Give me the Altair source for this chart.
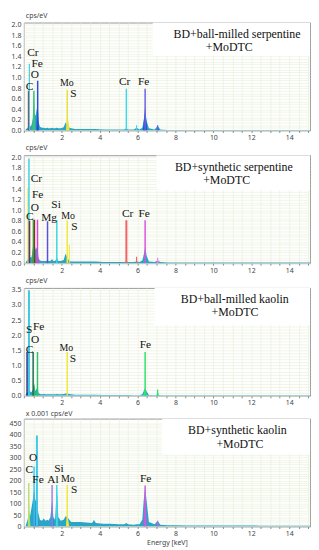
import altair as alt
import pandas as pd

# ---------------- shared energy grid for the continuum (keV) ----------------
ENERGY = [0.10, 0.20, 0.25, 0.28, 0.32,
          0.40, 0.48, 0.52, 0.56, 0.62,
          0.68, 0.72, 0.76, 0.85, 0.95,
          1.05, 1.15, 1.25, 1.30, 1.40,
          1.49, 1.56, 1.65, 1.74, 1.82,
          1.95, 2.10, 2.20, 2.30, 2.40,
          2.50, 2.70, 3.00, 3.30, 3.60,
          3.70, 3.80, 4.20, 4.60, 5.00,
          5.30, 5.41, 5.50, 5.80, 5.95,
          6.10, 6.25, 6.32, 6.40, 6.48,
          6.60, 6.90, 7.06, 7.20, 7.60,
          8.00, 8.60, 9.50, 10.5, 11.5,
          12.5, 13.5, 14.5, 15.1]

# ---------------- panel 1: BD + ball-milled serpentine + MoDTC ----------------
P1_BG = [0.02, 0.05, 0.07, 0.10, 0.07,
         0.10, 0.22, 0.38, 0.32, 0.28,
         0.40, 0.45, 0.18, 0.07, 0.05,
         0.05, 0.04, 0.05, 0.04, 0.04,
         0.05, 0.04, 0.04, 0.05, 0.04,
         0.04, 0.06, 0.15, 0.10, 0.05,
         0.04, 0.03, 0.03, 0.03, 0.03,
         0.03, 0.03, 0.02, 0.02, 0.02,
         0.02, 0.04, 0.02, 0.02, 0.05,
         0.02, 0.05, 0.18, 0.35, 0.18,
         0.04, 0.02, 0.09, 0.02, 0.01,
         0.01, 0.01, 0.01, 0.01, 0.01,
         0.01, 0.01, 0.01, 0.01]
P1_PEAK_COLORS = ["#a02c3c", "#3cc27a", "#2a4cd8", "#e6e040", "#2450d0", "#2450d0"]
P1_PEAK_E = [[0.22, 0.27, 0.32], [0.44, 0.50, 0.53, 0.56, 0.60], [0.66, 0.70, 0.73, 0.76, 0.80],
             [2.22, 2.27, 2.31, 2.35, 2.42], [6.28, 6.34, 6.40, 6.46, 6.52], [7.00, 7.06, 7.12]]
P1_PEAK_V = [[0, 0.12, 0], [0, 0.50, 0.74, 0.45, 0], [0, 0.35, 0.55, 0.30, 0],
             [0, 0.22, 0.26, 0.18, 0], [0, 0.22, 0.46, 0.20, 0], [0, 0.11, 0]]
P1_LINE_E = [0.25, 0.29, 0.53, 0.73, 2.29, 5.41, 5.95, 6.40, 7.06]
P1_LINE_H = [0.75, 1.26, 0.75, 0.94, 0.77, 0.79, 0.10, 0.79, 0.10]
P1_LINE_C = ["#a02c3c", "#3ccfe3", "#3cc27a", "#2a4cd8", "#e6e040", "#44d6e8", "#44d6e8", "#7060e8", "#7060e8"]
P1_LINE_W = [1.5, 1.2, 1.5, 1.5, 1.5, 1.5, 1.2, 1.5, 1.2]
P1_LAB = ["Cr", "Fe", "O", "C", "Mo", "S", "Cr", "Fe"]
P1_LAB_E = [0.48, 0.70, 0.58, 0.30, 2.27, 2.62, 5.32, 6.32]
P1_LAB_V = [1.46, 1.25, 1.04, 0.83, 0.90, 0.69, 0.91, 0.91]
P1_LAB_S = [11.5, 11.5, 11.5, 11.5, 10, 11.5, 11.5, 11.5]
P1_BOX = [6.8, 15.1, 1.41, 2.04]
P1_TEXT = ["BD+ball-milled serpentine", "+MoDTC"]
P1_TEXT_E = [11.25, 10.84]
P1_TEXT_V = [1.82, 1.57]

# ---------------- panel 2: BD + synthetic serpentine + MoDTC ----------------
P2_BG = [0.02, 0.06, 0.10, 0.25, 0.12,
         0.10, 0.28, 0.50, 0.40, 0.25,
         0.30, 0.20, 0.10, 0.05, 0.04,
         0.04, 0.04, 0.05, 0.04, 0.04,
         0.08, 0.04, 0.04, 0.10, 0.04,
         0.04, 0.06, 0.18, 0.10, 0.04,
         0.03, 0.03, 0.03, 0.03, 0.03,
         0.03, 0.03, 0.02, 0.02, 0.02,
         0.02, 0.03, 0.02, 0.02, 0.03,
         0.02, 0.05, 0.15, 0.30, 0.14,
         0.03, 0.02, 0.05, 0.02, 0.01,
         0.01, 0.01, 0.01, 0.01, 0.01,
         0.01, 0.01, 0.01, 0.01]
P2_PEAK_COLORS = ["#3a8a4a", "#e040d8", "#f090f0"]
P2_PEAK_E = [[0.44, 0.49, 0.53, 0.57, 0.62], [0.66, 0.70, 0.73, 0.76, 0.80], [7.00, 7.06, 7.12]]
P2_PEAK_V = [[0, 0.40, 0.56, 0.35, 0], [0, 0.18, 0.26, 0.15, 0], [0, 0.10, 0]]
P2_LINE_E = [0.22, 0.27, 0.30, 0.50, 0.56, 0.72, 1.25, 1.74, 2.29, 2.40, 5.41, 5.95, 6.40, 7.06]
P2_LINE_H = [1.42, 1.98, 0.80, 0.82, 0.82, 0.82, 0.79, 0.81, 0.81, 0.35, 0.81, 0.12, 0.81, 0.10]
P2_LINE_C = ["#f0e040", "#3ed0e6", "#8a2a2a", "#4cb04c", "#7a3a20", "#e040d8", "#5a4fe0", "#38d8e8",
             "#f0e840", "#f0e840", "#f06464", "#f06464", "#e050e0", "#f080f0"]
P2_LINE_W = [1.2, 1.5, 1.5, 1.5, 1.5, 1.5, 1.5, 1.5, 1.5, 1.2, 2.0, 1.2, 1.5, 1.2]
P2_LAB = ["Cr", "Fe", "O", "C", "Mg", "Si", "Mo", "S", "Cr", "Fe"]
P2_LAB_E = [0.66, 0.73, 0.58, 0.32, 1.33, 1.70, 2.34, 2.67, 5.48, 6.35]
P2_LAB_V = [1.59, 1.29, 1.05, 0.87, 0.86, 1.10, 0.90, 0.68, 0.92, 0.92]
P2_LAB_S = [11.5, 11.5, 11.5, 11.5, 11.5, 11.5, 10, 11.5, 11.5, 11.5]
P2_BOX = [7.0, 15.1, 1.38, 2.04]
P2_TEXT = ["BD+synthetic serpentine", "+MoDTC"]
P2_TEXT_E = [11.08, 10.7]
P2_TEXT_V = [1.82, 1.57]

# ---------------- panel 3: BD + ball-milled kaolin + MoDTC ----------------
P3_BG = [0.05, 0.12, 0.20, 0.25, 0.15,
         0.12, 0.20, 0.30, 0.25, 0.15,
         0.25, 0.20, 0.10, 0.06, 0.05,
         0.06, 0.05, 0.05, 0.05, 0.05,
         0.05, 0.05, 0.05, 0.06, 0.05,
         0.05, 0.06, 0.08, 0.08, 0.06,
         0.05, 0.04, 0.04, 0.04, 0.04,
         0.04, 0.04, 0.03, 0.03, 0.03,
         0.03, 0.03, 0.03, 0.02, 0.02,
         0.02, 0.05, 0.15, 0.25, 0.14,
         0.03, 0.02, 0.04, 0.02, 0.02,
         0.02, 0.02, 0.02, 0.02, 0.02,
         0.02, 0.02, 0.02, 0.02]
P3_PEAK_COLORS = ["#2fb860", "#2fd070", "#38e078", "#38e078"]
P3_PEAK_E = [[0.44, 0.50, 0.54, 0.58, 0.62], [0.66, 0.70, 0.72, 0.75, 0.78],
             [6.30, 6.35, 6.40, 6.45, 6.50], [7.00, 7.06, 7.12]]
P3_PEAK_V = [[0, 0.30, 0.42, 0.30, 0], [0, 0.25, 0.35, 0.20, 0],
             [0, 0.15, 0.27, 0.12, 0], [0, 0.21, 0]]
P3_LINE_E = [0.27, 0.17, 0.49, 0.72, 2.29, 6.40, 7.06]
P3_LINE_H = [3.48, 1.45, 1.45, 1.45, 1.45, 1.45, 0.21]
P3_LINE_C = ["#3ec8e2", "#24308a", "#1f6a55", "#30c070", "#f0e840", "#30e070", "#30e070"]
P3_LINE_W = [2.0, 1.5, 1.5, 1.5, 1.5, 1.5, 1.2]
P3_LAB = ["S", "Fe", "O", "C", "Mo", "S", "Fe"]
P3_LAB_E = [0.28, 0.78, 0.60, 0.30, 2.24, 2.59, 6.41]
P3_LAB_V = [2.16, 2.28, 1.84, 1.52, 1.57, 1.22, 1.67]
P3_LAB_S = [11.5, 11.5, 11.5, 11.5, 10, 11.5, 11.5]
P3_BOX = [6.9, 15.1, 2.33, 3.56]
P3_TEXT = ["BD+ball-milled kaolin", "+MoDTC"]
P3_TEXT_E = [11.13, 11.14]
P3_TEXT_V = [3.18, 2.76]

# ---------------- panel 4: BD + synthetic kaolin + MoDTC (x0.001 cps/eV) ----------------
P4_BG = [5, 30, 50, 60, 40,
         80, 120, 150, 140, 110,
         130, 110, 60, 30, 25,
         35, 25, 30, 25, 40,
         110, 40, 30, 170, 40,
         25, 30, 45, 40, 30,
         20, 20, 20, 18, 15,
         28, 15, 12, 12, 10,
         10, 15, 10, 8, 10,
         10, 30, 110, 170, 110,
         20, 10, 25, 8, 6,
         6, 5, 5, 5, 5,
         4, 4, 4, 4]
P4_PEAK_COLORS = ["#98d860", "#2a6ad0", "#9050d8", "#3a60d8", "#38c8e0", "#e8e040", "#b060d8", "#b060d8"]
P4_PEAK_E = [[0.20, 0.25, 0.27, 0.30, 0.35], [0.48, 0.52, 0.55, 0.58, 0.62], [0.64, 0.68, 0.71, 0.74, 0.78],
             [1.43, 1.47, 1.49, 1.52, 1.56], [1.68, 1.72, 1.74, 1.77, 1.81], [2.22, 2.27, 2.30, 2.34, 2.40],
             [6.30, 6.35, 6.40, 6.45, 6.50], [7.00, 7.06, 7.12]]
P4_PEAK_V = [[0, 60, 110, 60, 0], [0, 120, 180, 110, 0], [0, 50, 80, 40, 0],
             [0, 80, 115, 70, 0], [0, 130, 178, 110, 0], [0, 35, 45, 30, 0],
             [0, 90, 172, 85, 0], [0, 25, 0]]
P4_LINE_E = [0.26, 0.54, 0.69, 1.49, 1.74, 2.29, 6.40, 7.06]
P4_LINE_H = [190, 262, 396, 181, 181, 181, 179, 25]
P4_LINE_C = ["#b8e070", "#40c8e8", "#40c8e8", "#a080e8", "#40d8e8", "#f0e840", "#c860e0", "#c860e0"]
P4_LINE_W = [1.5, 1.5, 2.0, 1.5, 1.5, 1.5, 1.5, 1.2]
P4_LAB = ["O", "C", "Si", "Fe", "Al", "Mo", "S", "Fe"]
P4_LAB_E = [0.49, 0.29, 1.85, 0.75, 1.54, 2.32, 2.65, 6.43]
P4_LAB_V = [297, 245, 252, 203, 203, 206, 158, 205]
P4_LAB_S = [11.5, 11.5, 11.5, 11.5, 11.5, 10, 11.5, 11.5]
P4_BOX = [7.3, 15.1, 314, 470]
P4_TEXT = ["BD+synthetic kaolin", "+MoDTC"]
P4_TEXT_E = [11.27, 11.4]
P4_TEXT_V = [421, 360]

BG_COLOR = "#27a6c8"
SERIF = "Liberation Serif"
SANS = "Noto Sans"
X_MAX = 15.1
W = 289
H = 109


def panel(bg, pk_c, pk_e, pk_v, ln_e, ln_h, ln_c, ln_w, lab, lab_e, lab_v, lab_s,
          box, txt, txt_e, txt_v, ymax, ygrid, ylab_step, yfmt, title, xtitle=None):
    xgrid_vals = [i * 0.5 for i in range(31)]
    xaxis = alt.Axis(values=xgrid_vals, grid=True, ticks=True, tickSize=2,
                     tickColor="#8a8a8a", labelPadding=1,
                     labelExpr="(datum.value % 2 == 0 && datum.value > 0) ? format(datum.value, 'd') : ''",
                     title=xtitle if xtitle else None, titleFontSize=7, titleFont=SANS,
                     titleFontWeight="normal", titleColor="#444", titlePadding=2)
    n = int(round(ymax / ygrid))
    ygrid_vals = [round(i * ygrid, 4) for i in range(n + 1)]
    ylab = ("abs(datum.value/%s - round(datum.value/%s)) < 0.001 ? format(datum.value, '%s') : ''"
            % (ylab_step, ylab_step, yfmt))
    yaxis = alt.Axis(values=ygrid_vals, grid=True, ticks=False, labelPadding=3,
                     labelExpr=ylab, title=None)
    xs = alt.Scale(domain=[0, X_MAX], nice=False, zero=False)
    ys = alt.Scale(domain=[0, box[3]], nice=False)

    def X(f):
        return alt.X(f, type="quantitative", scale=xs, axis=xaxis)

    def Y(f):
        return alt.Y(f, type="quantitative", scale=ys, axis=yaxis, stack=None)

    layers = []
    bg_df = pd.DataFrame({"e": ENERGY, "v": bg})
    layers.append(alt.Chart(bg_df).mark_area(color=BG_COLOR, clip=True, interpolate="linear")
                  .encode(x=X("e"), y=Y("v")))
    for c, es, vs in zip(pk_c, pk_e, pk_v):
        df = pd.DataFrame({"e": es, "v": vs})
        layers.append(alt.Chart(df).mark_area(color=c, clip=True)
                      .encode(x=X("e"), y=Y("v")))
    ln_df = pd.DataFrame({"e": ln_e, "v": ln_h, "c": ln_c, "w": ln_w})
    layers.append(alt.Chart(ln_df).mark_rule(clip=True).encode(
        x=X("e"), y=Y("v"), y2=alt.datum(0),
        color=alt.Color("c:N", scale=None), strokeWidth=alt.StrokeWidth("w:Q", scale=None)))
    box_df = pd.DataFrame({"e": [box[0]], "e2": [box[1]], "v": [box[2]], "v2": [box[3]]})
    layers.append(alt.Chart(box_df).mark_rect(color="white", clip=True).encode(
        x=X("e"), x2="e2", y=Y("v"), y2="v2"))
    lab_df = pd.DataFrame({"e": lab_e, "v": lab_v, "t": lab, "s": lab_s})
    layers.append(alt.Chart(lab_df).mark_text(font=SERIF, color="#111", baseline="middle",
                                              align="center").encode(
        x=X("e"), y=Y("v"), text="t:N", size=alt.Size("s:Q", scale=None)))
    txt_df = pd.DataFrame({"e": txt_e, "v": txt_v, "t": txt})
    layers.append(alt.Chart(txt_df).mark_text(font=SERIF, fontSize=12, color="#111",
                                              baseline="middle", align="center").encode(
        x=X("e"), y=Y("v"), text="t:N"))
    return alt.layer(*layers).properties(
        width=W, height=H,
        title=alt.TitleParams(title, anchor="start", frame="group", fontSize=7, font=SANS,
                              fontWeight="normal", color="#444", offset=2, dx=2))


p1 = panel(P1_BG, P1_PEAK_COLORS, P1_PEAK_E, P1_PEAK_V, P1_LINE_E, P1_LINE_H, P1_LINE_C, P1_LINE_W,
           P1_LAB, P1_LAB_E, P1_LAB_V, P1_LAB_S, P1_BOX, P1_TEXT, P1_TEXT_E, P1_TEXT_V,
           2.0, 0.05, 0.2, ".1f", "cps/eV")
p2 = panel(P2_BG, P2_PEAK_COLORS, P2_PEAK_E, P2_PEAK_V, P2_LINE_E, P2_LINE_H, P2_LINE_C, P2_LINE_W,
           P2_LAB, P2_LAB_E, P2_LAB_V, P2_LAB_S, P2_BOX, P2_TEXT, P2_TEXT_E, P2_TEXT_V,
           2.0, 0.05, 0.2, ".1f", "cps/eV")
p3 = panel(P3_BG, P3_PEAK_COLORS, P3_PEAK_E, P3_PEAK_V, P3_LINE_E, P3_LINE_H, P3_LINE_C, P3_LINE_W,
           P3_LAB, P3_LAB_E, P3_LAB_V, P3_LAB_S, P3_BOX, P3_TEXT, P3_TEXT_E, P3_TEXT_V,
           3.5, 0.1, 0.5, ".1f", "cps/eV")
p4 = panel(P4_BG, P4_PEAK_COLORS, P4_PEAK_E, P4_PEAK_V, P4_LINE_E, P4_LINE_H, P4_LINE_C, P4_LINE_W,
           P4_LAB, P4_LAB_E, P4_LAB_V, P4_LAB_S, P4_BOX, P4_TEXT, P4_TEXT_E, P4_TEXT_V,
           450, 10, 50, "d", "x 0.001 cps/eV", xtitle="Energy [keV]")

chart = (alt.vconcat(p1, p2, p3, p4, spacing=2)
         .properties(padding=0)
         .configure_view(stroke="#9a9a9a", strokeWidth=1)
         .configure_axis(labelFont=SANS, labelFontSize=7, labelColor="#444",
                         gridColor="#e8eed6", gridWidth=0.6, domain=False))

chart.save("out.html", embed_options={"renderer": "svg", "actions": False})
